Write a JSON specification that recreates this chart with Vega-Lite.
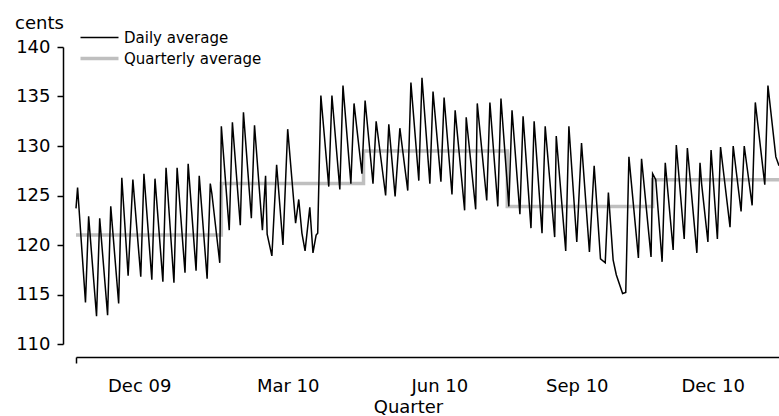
{
  "$schema": "https://vega.github.io/schema/vega-lite/v6.json",
  "autosize": "none",
  "width": 703,
  "height": 297,
  "padding": {"left": 76, "top": 47, "right": 0, "bottom": 72},
  "background": "white",
  "config": {
    "view": {"stroke": null},
    "font": "DejaVu Sans",
    "axis": {
      "labelFont": "DejaVu Sans",
      "labelFontSize": 18,
      "labelColor": "#000000",
      "titleFont": "DejaVu Sans",
      "titleFontSize": 18,
      "titleFontWeight": "normal",
      "titleColor": "#000000",
      "domainColor": "#000000",
      "domainWidth": 1.5,
      "tickColor": "#000000",
      "tickWidth": 1.5,
      "tickSize": 6,
      "grid": false
    },
    "legend": {
      "labelFont": "DejaVu Sans",
      "labelFontSize": 15,
      "labelColor": "#000000"
    }
  },
  "datasets": {
    "daily": [
      {"date": "2009-10-01", "price": 123.7},
      {"date": "2009-10-02", "price": 125.8},
      {"date": "2009-10-07", "price": 114.2},
      {"date": "2009-10-09", "price": 122.9},
      {"date": "2009-10-14", "price": 112.8},
      {"date": "2009-10-16", "price": 122.7},
      {"date": "2009-10-21", "price": 112.9},
      {"date": "2009-10-23", "price": 123.9},
      {"date": "2009-10-28", "price": 114.1},
      {"date": "2009-10-30", "price": 126.8},
      {"date": "2009-11-03", "price": 116.9},
      {"date": "2009-11-06", "price": 126.6},
      {"date": "2009-11-11", "price": 116.8},
      {"date": "2009-11-13", "price": 127.2},
      {"date": "2009-11-18", "price": 116.5},
      {"date": "2009-11-20", "price": 126.7},
      {"date": "2009-11-25", "price": 116.3},
      {"date": "2009-11-27", "price": 127.8},
      {"date": "2009-12-02", "price": 116.2},
      {"date": "2009-12-04", "price": 127.8},
      {"date": "2009-12-09", "price": 117.2},
      {"date": "2009-12-11", "price": 128.2},
      {"date": "2009-12-16", "price": 117.4},
      {"date": "2009-12-18", "price": 127.0},
      {"date": "2009-12-23", "price": 116.6},
      {"date": "2009-12-25", "price": 126.2},
      {"date": "2009-12-26", "price": 125.2},
      {"date": "2009-12-31", "price": 118.2},
      {"date": "2010-01-01", "price": 132.0},
      {"date": "2010-01-06", "price": 121.5},
      {"date": "2010-01-08", "price": 132.4},
      {"date": "2010-01-13", "price": 122.0},
      {"date": "2010-01-15", "price": 133.4},
      {"date": "2010-01-20", "price": 122.7},
      {"date": "2010-01-22", "price": 132.1},
      {"date": "2010-01-27", "price": 121.5},
      {"date": "2010-01-29", "price": 127.0},
      {"date": "2010-01-30", "price": 121.1},
      {"date": "2010-02-02", "price": 118.9},
      {"date": "2010-02-05", "price": 128.1},
      {"date": "2010-02-09", "price": 120.0},
      {"date": "2010-02-12", "price": 131.7},
      {"date": "2010-02-17", "price": 122.2},
      {"date": "2010-02-19", "price": 124.6},
      {"date": "2010-02-21", "price": 121.2},
      {"date": "2010-02-23", "price": 119.4},
      {"date": "2010-02-26", "price": 123.8},
      {"date": "2010-02-28", "price": 119.2},
      {"date": "2010-03-02", "price": 121.0},
      {"date": "2010-03-03", "price": 121.2},
      {"date": "2010-03-05", "price": 135.1},
      {"date": "2010-03-10", "price": 125.9},
      {"date": "2010-03-12", "price": 135.1},
      {"date": "2010-03-17", "price": 125.6},
      {"date": "2010-03-19", "price": 136.1},
      {"date": "2010-03-24", "price": 126.2},
      {"date": "2010-03-26", "price": 134.3},
      {"date": "2010-03-31", "price": 127.2},
      {"date": "2010-04-02", "price": 134.6},
      {"date": "2010-04-07", "price": 126.2},
      {"date": "2010-04-09", "price": 132.5},
      {"date": "2010-04-15", "price": 125.0},
      {"date": "2010-04-17", "price": 132.2},
      {"date": "2010-04-21", "price": 124.9},
      {"date": "2010-04-24", "price": 131.8},
      {"date": "2010-04-29", "price": 125.5},
      {"date": "2010-05-01", "price": 136.4},
      {"date": "2010-05-06", "price": 126.5},
      {"date": "2010-05-08", "price": 136.9},
      {"date": "2010-05-13", "price": 126.2},
      {"date": "2010-05-15", "price": 135.5},
      {"date": "2010-05-20", "price": 126.4},
      {"date": "2010-05-22", "price": 134.9},
      {"date": "2010-05-27", "price": 125.1},
      {"date": "2010-05-29", "price": 133.6},
      {"date": "2010-06-04", "price": 123.5},
      {"date": "2010-06-05", "price": 132.9},
      {"date": "2010-06-11", "price": 123.6},
      {"date": "2010-06-12", "price": 134.3},
      {"date": "2010-06-18", "price": 124.5},
      {"date": "2010-06-20", "price": 134.4},
      {"date": "2010-06-25", "price": 123.9},
      {"date": "2010-06-27", "price": 134.8},
      {"date": "2010-07-02", "price": 123.9},
      {"date": "2010-07-04", "price": 133.6},
      {"date": "2010-07-09", "price": 123.1},
      {"date": "2010-07-11", "price": 133.0},
      {"date": "2010-07-16", "price": 121.7},
      {"date": "2010-07-18", "price": 132.5},
      {"date": "2010-07-23", "price": 121.2},
      {"date": "2010-07-25", "price": 132.0},
      {"date": "2010-07-31", "price": 120.8},
      {"date": "2010-08-01", "price": 131.0},
      {"date": "2010-08-07", "price": 119.4},
      {"date": "2010-08-09", "price": 132.0},
      {"date": "2010-08-14", "price": 120.3},
      {"date": "2010-08-17", "price": 130.3},
      {"date": "2010-08-22", "price": 119.3},
      {"date": "2010-08-25", "price": 128.0},
      {"date": "2010-08-29", "price": 118.6},
      {"date": "2010-09-01", "price": 118.2},
      {"date": "2010-09-03", "price": 125.3},
      {"date": "2010-09-06", "price": 118.5},
      {"date": "2010-09-08", "price": 117.0},
      {"date": "2010-09-12", "price": 115.1},
      {"date": "2010-09-14", "price": 115.2},
      {"date": "2010-09-16", "price": 128.9},
      {"date": "2010-09-22", "price": 118.7},
      {"date": "2010-09-24", "price": 128.7},
      {"date": "2010-09-30", "price": 118.8},
      {"date": "2010-10-01", "price": 127.2},
      {"date": "2010-10-03", "price": 126.6},
      {"date": "2010-10-07", "price": 118.3},
      {"date": "2010-10-09", "price": 128.3},
      {"date": "2010-10-14", "price": 119.5},
      {"date": "2010-10-16", "price": 130.1},
      {"date": "2010-10-21", "price": 120.6},
      {"date": "2010-10-23", "price": 129.8},
      {"date": "2010-10-29", "price": 119.2},
      {"date": "2010-10-31", "price": 128.3},
      {"date": "2010-11-01", "price": 126.2},
      {"date": "2010-11-05", "price": 120.3},
      {"date": "2010-11-07", "price": 129.6},
      {"date": "2010-11-11", "price": 120.6},
      {"date": "2010-11-13", "price": 129.9},
      {"date": "2010-11-19", "price": 121.8},
      {"date": "2010-11-21", "price": 130.0},
      {"date": "2010-11-26", "price": 123.4},
      {"date": "2010-11-28", "price": 130.0},
      {"date": "2010-12-03", "price": 124.0},
      {"date": "2010-12-05", "price": 134.4},
      {"date": "2010-12-11", "price": 126.1},
      {"date": "2010-12-13", "price": 136.1},
      {"date": "2010-12-18", "price": 128.9},
      {"date": "2010-12-20", "price": 128.0}
    ],
    "quarterly": [
      {"date": "2009-10-01", "price": 121.0},
      {"date": "2010-01-01", "price": 126.2},
      {"date": "2010-04-01", "price": 129.5},
      {"date": "2010-07-01", "price": 123.9},
      {"date": "2010-10-01", "price": 126.6},
      {"date": "2010-12-20", "price": 126.6}
    ]
  },
  "encoding": {
    "x": {
      "field": "date",
      "type": "temporal",
      "scale": {
        "type": "utc",
        "domain": [
          {"year": 2009, "month": 10, "date": 1, "utc": true},
          {"year": 2010, "month": 12, "date": 20, "utc": true}
        ],
        "nice": false
      },
      "axis": {
        "title": "Quarter",
        "offset": 13,
        "values": [
          {"year": 2009, "month": 10, "date": 1, "utc": true},
          {"year": 2009, "month": 11, "date": 10, "utc": true},
          {"year": 2010, "month": 2, "date": 12, "utc": true},
          {"year": 2010, "month": 5, "date": 19, "utc": true},
          {"year": 2010, "month": 8, "date": 14, "utc": true},
          {"year": 2010, "month": 11, "date": 8, "utc": true}
        ],
        "labelExpr": "utcdate(datum.value) == 1 ? '' : utcFormat(datum.value + 2592000000, '%b %y')",
        "tickOpacity": {"condition": {"test": "utcdate(datum.value) == 1", "value": 1}, "value": 0},
        "labelPadding": 14,
        "labelFlush": false,
        "labelOverlap": false,
        "titleX": 332,
        "titleY": 55,
        "titleAnchor": null,
        "titleAlign": "center",
        "titleBaseline": "alphabetic"
      }
    },
    "y": {
      "field": "price",
      "type": "quantitative",
      "scale": {"domain": [110, 140], "nice": false, "zero": false},
      "axis": {
        "title": "cents",
        "values": [110, 115, 120, 125, 130, 135, 140],
        "offset": 13,
        "labelPadding": 7,
        "titleAngle": 0,
        "titleX": -24,
        "titleY": -19,
        "titleAlign": "center",
        "titleBaseline": "alphabetic",
        "titleAnchor": null
      }
    },
    "color": {
      "datum": "Daily average",
      "type": "nominal",
      "scale": {"domain": ["Daily average", "Quarterly average"], "range": ["#000000", "#bfbfbf"]},
      "legend": {
        "title": null,
        "orient": "none",
        "legendX": 16,
        "legendY": -17,
        "symbolType": "stroke",
        "symbolSize": 1444,
        "symbolStrokeWidth": 2,
        "labelOffset": 17,
        "rowPadding": 5,
        "padding": 0,
        "encode": {
          "symbols": {
            "update": {
              "strokeWidth": {"signal": "datum.value == 'Quarterly average' ? 3.5 : 1.5"}
            }
          }
        }
      }
    }
  },
  "layer": [
    {
      "data": {"name": "quarterly"},
      "mark": {"type": "line", "interpolate": "step-after", "strokeWidth": 3.5},
      "encoding": {"color": {"datum": "Quarterly average", "type": "nominal"}}
    },
    {
      "data": {"name": "daily"},
      "mark": {"type": "line", "strokeWidth": 1.5},
      "encoding": {}
    }
  ]
}
